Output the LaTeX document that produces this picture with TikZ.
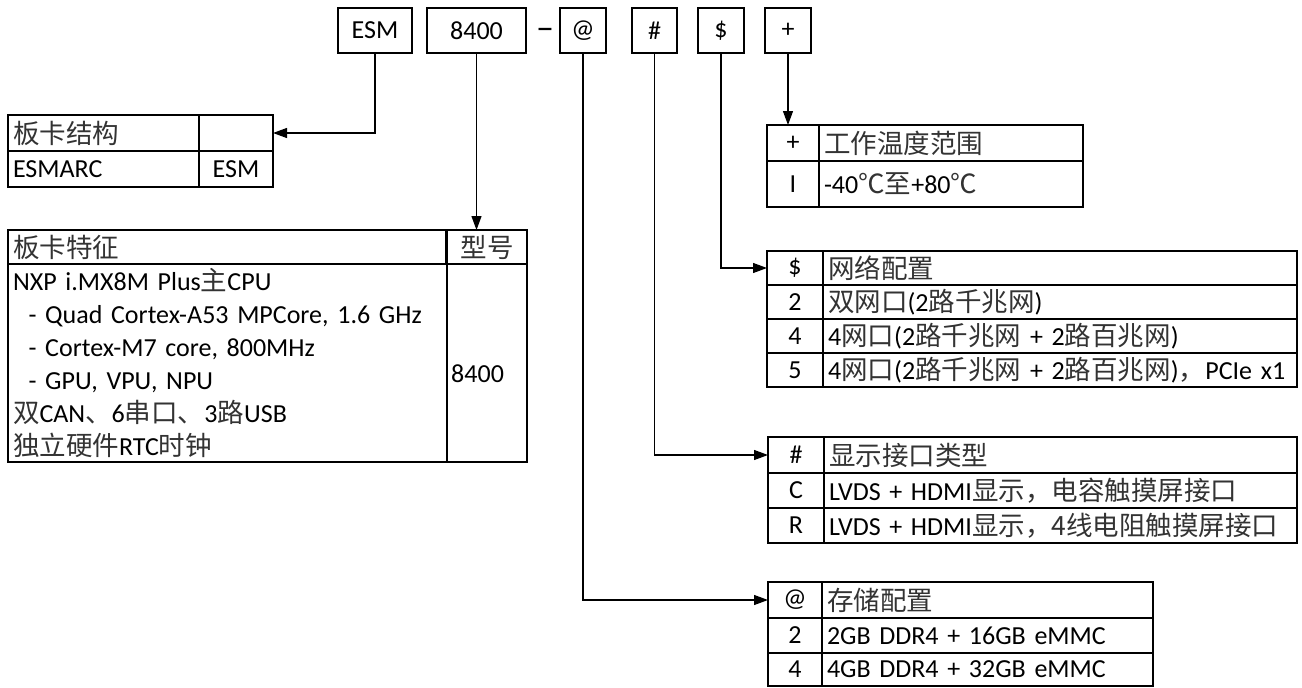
\documentclass[tikz,border=0pt]{standalone}
\usepackage{fontspec}
\setmainfont{Carlito}
\newfontfamily\cjkfont{Noto Sans CJK SC}[Scale=1.02, Color=333333]
\usetikzlibrary{arrows.meta}
\newcommand\zh[1]{{\cjkfont #1}}
\newcommand\tabfont{\fontsize{26}{30}\selectfont}
\tikzset{
  codebox/.style={draw, line width=1.3pt, minimum height=45, inner sep=0pt, font=\tabfont},
  cell/.style={draw, line width=1.6pt, anchor=north west, outer sep=0pt, inner sep=0pt, font=\tabfont},
  keycell/.style 2 args={cell, minimum width=#1, minimum height=#2},
  valcell/.style 2 args={cell, inner xsep=5pt, text width=#1, minimum height=#2, align=left},
  conn/.style={-{Triangle[length=14pt, width=10pt]}, line width=1.2pt}
}
\begin{document}
\begin{tikzpicture}[x=1pt, y=-1pt]
\path[use as bounding box, fill=white] (0,0) rectangle (1302,688);
% code boxes
\node[codebox, minimum width=74] (esm) at (375,30.5) {ESM};
\node[codebox, minimum width=99] (num) at (476.5,30.5) {8400};
\node[font=\fontsize{36}{36}\selectfont, inner sep=0pt] (dash) at (545,34) {\textendash};
\node[codebox, minimum width=46] (mem) at (583,30.5) {@};
\node[codebox, minimum width=45] (disp) at (654.5,30.5) {\#};
\node[codebox, minimum width=46] (net) at (721,30.5) {\$};
\node[codebox, minimum width=46] (temp) at (788,30.5) {+};
% board structure
\node[valcell={181}{36}] (strh) at (8,115) {\zh{板卡结构}};
\node[keycell={74}{36}] (strv) at (199,115) {};
\node[valcell={181}{36}] (strn) at (8,151) {ESMARC};
\node[keycell={74}{36}] (strc) at (199,151) {ESM};
% board features
\node[valcell={428}{34}] (feath) at (8,230) {\zh{板卡特征}};
\node[keycell={80}{34}] (featv) at (447,230) {\zh{型号}};
\node[valcell={429}{198}, font=\fontsize{26}{33}\selectfont] (featb) at (8,264) {%
  NXP i.MX8M Plus\zh{主}CPU\\
  \hspace*{0.6em}- Quad Cortex-A53 MPCore, 1.6 GHz\\
  \hspace*{0.6em}- Cortex-M7 core, 800MHz\\
  \hspace*{0.6em}- GPU, VPU, NPU\\
  \zh{双}CAN\zh{、}6\zh{串口、}3\zh{路}USB\\
  \zh{独立硬件}RTC\zh{时钟}};
\node[keycell={80}{198}] (featc) at (447,264) {};
\node[font=\tabfont, anchor=west, inner sep=0pt] (featn) at (451,374) {8400};
% temperature
\node[keycell={52}{36}] (tmpk) at (767,125) {+};
\node[valcell={254}{36}] (tmpv) at (819,125) {\zh{工作温度范围}};
\node[keycell={52}{46}] (tmpik) at (767,161) {I};
\node[valcell={254}{46}] (tmpiv) at (819,161) {-40\zh{℃至}+80\zh{℃}};
% network
\node[keycell={56}{34}] (netk) at (767,251) {\$};
\node[valcell={464}{34}] (netv) at (823,251) {\zh{网络配置}};
\node[keycell={56}{34}] (net2k) at (767,285) {2};
\node[valcell={464}{34}] (net2v) at (823,285) {\zh{双网口}(2\zh{路千兆网})};
\node[keycell={56}{34}] (net4k) at (767,319) {4};
\node[valcell={464}{34}] (net4v) at (823,319) {4\zh{网口}(2\zh{路千兆网} + 2\zh{路百兆网})};
\node[keycell={56}{34}] (net5k) at (767,353) {5};
\node[valcell={464}{34}] (net5v) at (823,353) {\mbox{4\zh{网口}(2\zh{路千兆网} + 2\zh{路百兆网})\zh{，}PCIe x1}};
% display
\node[keycell={56}{36}] (dispk) at (768,437) {\#};
\node[valcell={463}{36}] (dispv) at (824,437) {\zh{显示接口类型}};
\node[keycell={56}{35}] (dispck) at (768,473) {C};
\node[valcell={463}{35}] (dispcv) at (824,473) {LVDS + HDMI\zh{显示，电容触摸屏接口}};
\node[keycell={56}{35}] (disprk) at (768,508) {R};
\node[valcell={463}{35}] (disprv) at (824,508) {\mbox{LVDS + HDMI\zh{显示，4线电阻触摸屏接口}}};
% storage
\node[keycell={54}{36}] (memk) at (768,582) {@};
\node[valcell={321}{36}] (memv) at (822,582) {\zh{存储配置}};
\node[keycell={54}{35}] (mem2k) at (768,618) {2};
\node[valcell={321}{35}] (mem2v) at (822,618) {2GB DDR4 + 16GB eMMC};
\node[keycell={54}{33}] (mem4k) at (768,653) {4};
\node[valcell={321}{33}] (mem4v) at (822,653) {4GB DDR4 + 32GB eMMC};
% connectors
\draw[conn] (esm.south) |- (strv.east);
\draw[conn] (num.south) -- (num.south |- featv.north);
\draw[conn] (mem.south) |- (memk.west);
\draw[conn] (disp.south) |- (dispk.west);
\draw[conn] (net.south) |- (netk.west);
\draw[conn] (temp.south) -- (temp.south |- tmpk.north);
\end{tikzpicture}
\end{document}
